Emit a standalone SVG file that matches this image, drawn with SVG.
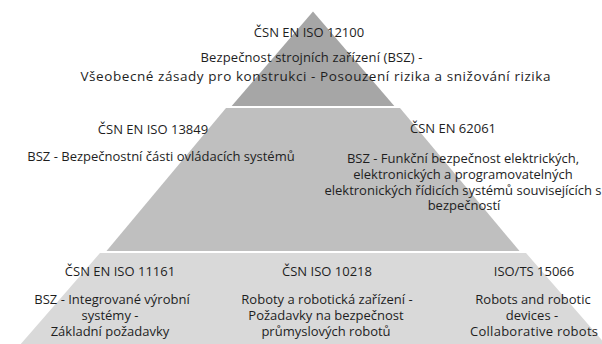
<svg xmlns="http://www.w3.org/2000/svg" width="602" height="344" viewBox="0 0 602 344">
<style>
text{font-family:"Open Sans","Liberation Sans",sans-serif;font-size:13px;fill:#1e1e1e;text-anchor:middle}
.t1{fill:#a6a6a6}.t2{fill:#bfbfbf}.t3{fill:#d9d9d9}
</style>
<rect width="602" height="344" fill="#ffffff"/>
<g id="tier-top">
<polygon class="t1" points="313,11.5 394.3,106 231.7,106"/>
</g>
<g id="tier-middle">
<polygon class="t2" points="226,108 400,108 519.5,251 106.5,251"/>
</g>
<g id="tier-bottom">
<polygon class="t3" points="100,253 526,253 605.2,344 20.8,344"/>
</g>
<g id="node-12100">
<text x="309" y="37">ČSN EN ISO 12100</text>
<text x="311.5" y="62" textLength="222" lengthAdjust="spacing">Bezpečnost strojních zařízení (BSZ) -</text>
<text x="315.5" y="81" style="font-size:13.5px" textLength="470" lengthAdjust="spacing">Všeobecné zásady pro konstrukci - Posouzení rizika a snižování rizika</text>
</g>
<g id="node-13849">
<text x="153" y="134">ČSN EN ISO 13849</text>
<text x="161" y="161">BSZ - Bezpečnostní části ovládacích systémů</text>
</g>
<g id="node-62061">
<text x="453" y="133">ČSN EN 62061</text>
<text x="463" y="163">BSZ - Funkční bezpečnost elektrických,</text>
<text x="463" y="179">elektronických a programovatelných</text>
<text x="463" y="194.5">elektronických řídicích systémů souvisejících s</text>
<text x="464" y="210">bezpečností</text>
</g>
<g id="node-11161">
<text x="120" y="276">ČSN EN ISO 11161</text>
<text x="112" y="304">BSZ - Integrované výrobní</text>
<text x="110" y="320">systémy -</text>
<text x="110" y="335.5">Základní požadavky</text>
</g>
<g id="node-10218">
<text x="327" y="276">ČSN ISO 10218</text>
<text x="327" y="304">Roboty a robotická zařízení -</text>
<text x="326" y="320">Požadavky na bezpečnost</text>
<text x="326" y="335.5">průmyslových robotů</text>
</g>
<g id="node-15066">
<text x="534" y="276">ISO/TS 15066</text>
<text x="533" y="304">Robots and robotic</text>
<text x="532" y="320">devices -</text>
<text x="534" y="335.5" textLength="128" lengthAdjust="spacing">Collaborative robots</text>
</g>
</svg>
